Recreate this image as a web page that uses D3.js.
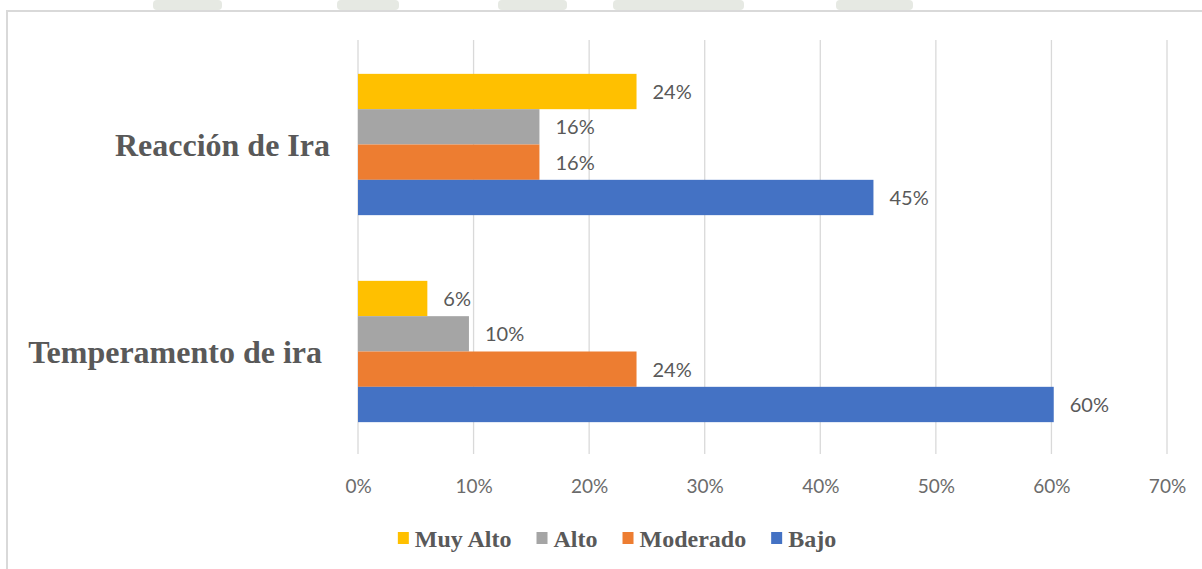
<!DOCTYPE html>
<html>
<head>
<meta charset="utf-8">
<script src="https://cdn.jsdelivr.net/npm/d3@7"></script>
<style>
  html, body { margin: 0; padding: 0; background: #fff; }
  svg { display: block; }
  text { white-space: pre; }
</style>
</head>
<body>
<svg id="chart" width="1202" height="569"></svg>
<script>
// ---- data ----
const categories = ["Reacción de Ira", "Temperamento de ira "];
const seriesNames = ["Muy Alto", "Alto", "Moderado", "Bajo"];
const seriesColors = ["#FFC000", "#A5A5A5", "#ED7D31", "#4472C4"];
const muyAlto  = [0.241, 0.060];
const alto     = [0.157, 0.096];
const moderado = [0.157, 0.241];
const bajo     = [0.446, 0.602];
const tickValues = [0, 0.1, 0.2, 0.3, 0.4, 0.5, 0.6, 0.7];

const seriesValues = [muyAlto, alto, moderado, bajo];

const svg = d3.select("#chart");
const W = 1202, H = 569;

// faint watermark shapes above chart frame
const wm = [[153, 222], [337, 399], [498, 567], [613, 744], [836, 913]];
svg.selectAll("rect.wm").data(wm).join("rect")
  .attr("x", d => d[0]).attr("y", 0)
  .attr("width", d => d[1] - d[0]).attr("height", 10)
  .attr("rx", 4)
  .attr("fill", "#e6e9e3");

// chart frame
svg.append("rect")
  .attr("x", 7).attr("y", 11).attr("width", W + 40).attr("height", H + 40)
  .attr("fill", "#fff").attr("stroke", "#d9d9d9").attr("stroke-width", 2);

const plot = { left: 358, right: 1167, top: 40, bottom: 454 };

const x = d3.scaleLinear().domain([0, 0.7]).range([plot.left, plot.right]);
const y = d3.scaleBand().domain(categories).range([plot.top + 1, plot.bottom + 1]);
const yInner = d3.scaleBand().domain(seriesNames).range([0, y.bandwidth()])
  .paddingInner(0).paddingOuter(0.93);

// gridlines
svg.append("g").selectAll("line").data(tickValues).join("line")
  .attr("x1", d => x(d)).attr("x2", d => x(d))
  .attr("y1", plot.top).attr("y2", plot.bottom)
  .attr("stroke", "#d9d9d9").attr("stroke-width", 1.3);

// x axis labels
const xAxis = d3.axisBottom(x).tickValues(tickValues).tickFormat(d3.format(".0%")).tickSize(0).tickPadding(0);
const gx = svg.append("g").attr("transform", `translate(0, 493)`).call(xAxis);
gx.select(".domain").remove();
gx.selectAll("text")
  .attr("dy", 0).attr("y", 0)
  .attr("font-family", "Lato, 'Open Sans', sans-serif")
  .attr("font-size", 19).attr("fill", "#6b6b6b");

// category labels
svg.append("g").selectAll("text").data(categories).join("text")
  .attr("x", 330)
  .attr("y", d => y(d) + y.bandwidth() / 2 + 11.5)
  .attr("text-anchor", "end")
  .attr("font-family", "'Liberation Serif', 'Times New Roman', serif")
  .attr("font-weight", "bold")
  .attr("font-size", 32)
  .attr("fill", "#595959")
  .text(d => d);

// bars
const flat = [];
seriesNames.forEach((s, si) => {
  categories.forEach((c, ci) => {
    flat.push({ series: s, cat: c, value: seriesValues[si][ci], color: seriesColors[si] });
  });
});

const gBars = svg.append("g");
gBars.selectAll("rect").data(flat).join("rect")
  .attr("x", x(0))
  .attr("y", d => y(d.cat) + yInner(d.series))
  .attr("width", d => x(d.value) - x(0))
  .attr("height", yInner.bandwidth())
  .attr("fill", d => d.color);

// data labels
gBars.selectAll("text").data(flat).join("text")
  .attr("x", d => x(d.value) + 16)
  .attr("y", d => y(d.cat) + yInner(d.series) + yInner.bandwidth() / 2 + 7.5)
  .attr("font-family", "Lato, 'Open Sans', sans-serif")
  .attr("font-size", 20)
  .attr("fill", "#595959")
  .text(d => d3.format(".0%")(d.value));

// legend
const legend = svg.append("g");
const items = legend.selectAll("g").data(seriesNames).join("g");
items.append("rect")
  .attr("width", 11).attr("height", 12)
  .attr("y", -15)
  .attr("fill", (d, i) => seriesColors[i]);
items.append("text")
  .attr("x", 17)
  .attr("font-family", "'Liberation Serif', 'Times New Roman', serif")
  .attr("font-weight", "bold")
  .attr("font-size", 24)
  .attr("fill", "#595959")
  .text(d => d);
let cx = 0;
const offsets = [];
items.each(function(d, i) {
  offsets.push(cx);
  const tw = d3.select(this).select("text").node().getComputedTextLength();
  cx += 17 + tw + 25;
});
const totalW = cx - 25;
const legendCenter = 617;
const startX = legendCenter - totalW / 2;
items.attr("transform", (d, i) => `translate(${startX + offsets[i]}, 547)`);
</script>
</body>
</html>
